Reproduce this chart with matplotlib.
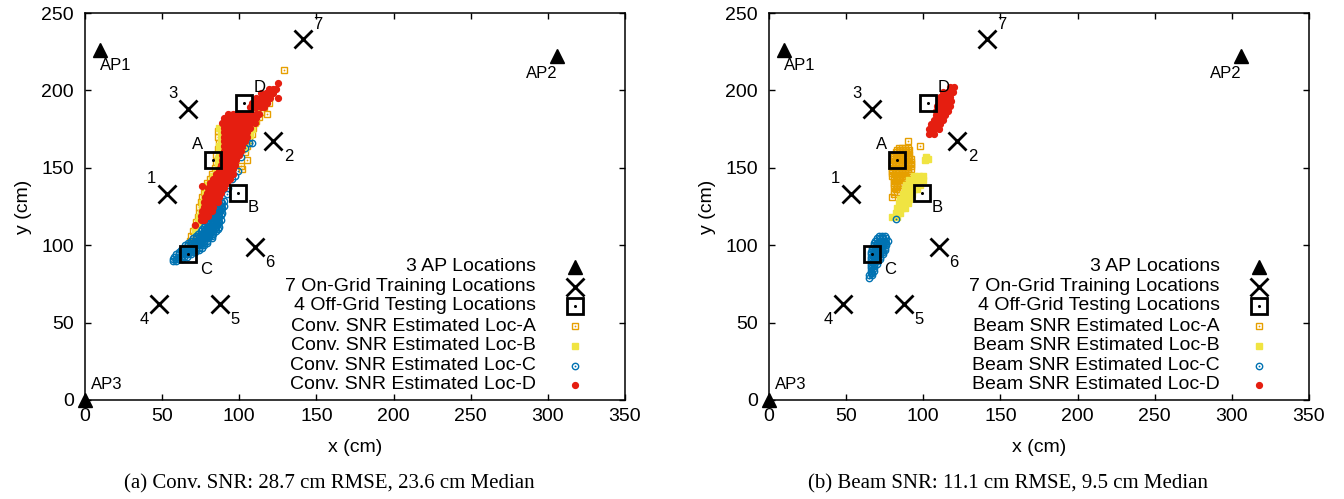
"""
Localización en interiores: estimaciones Conv. SNR vs Beam SNR.
Dos paneles con APs, puntos de entrenamiento, puntos de prueba y nubes de estimación.
"""

import matplotlib
matplotlib.use("Agg")
import matplotlib.pyplot as plt

plt.rcParams["font.family"] = ["Liberation Sans", "DejaVu Sans"]

# --- posiciones fijas (cm) ---
ap_x = [10, 306, 0]
ap_y = [226, 222, 0]
ap_labels = ["AP1", "AP2", "AP3"]

train_x = [53, 122, 67, 48, 87.5, 110, 141]
train_y = [133, 167, 188, 62, 62, 99, 233]
train_labels = ["1", "2", "3", "4", "5", "6", "7"]

test_x = [83, 99, 67, 103]
test_y = [155, 134, 94, 192]
test_labels = ["A", "B", "C", "D"]

# --- nubes de estimación, panel (a) Conv. SNR: filas (y, [x...]) + puntos sueltos ---
conv_a_pts = [
    (86, 174), (86, 170), (87, 166), (86, 162), (85, 158), (85, 154), (84, 150),
    (82, 146), (81, 143), (79, 140), (78, 137), (77, 134), (76, 131), (75, 128),
    (74, 125), (74, 121), (73, 118), (72, 115), (71, 112), (70, 109), (69, 106),
    (68, 103), (114, 186), (116, 189), (119, 192), (113, 183), (111, 180),
    (109, 176), (108, 172), (106, 168), (105, 164), (104, 160), (105, 155),
    (102, 149), (118, 185), (129, 213), (101, 151),
]
conv_b_pts = [
    (87, 176), (88, 172), (88, 168), (87, 164), (87, 160), (86, 156), (86, 152),
    (85, 148), (83, 145), (82, 142), (80, 139), (79, 136), (78, 133), (77, 130),
    (76, 127), (76, 124), (75, 121), (74, 118), (73, 115), (72, 112), (71, 109),
    (112, 187), (115, 190), (117, 193), (119, 196), (111, 183), (110, 179),
    (108, 175), (107, 171), (105, 167), (104, 163),
]
conv_c_rows = [
    (89.5, [57, 59]),
    (91, [57, 59, 61, 63]),
    (92.5, [58, 60, 62, 64, 66]),
    (94, [59, 61, 63, 65, 67, 69]),
    (95.5, [61, 63, 65, 67, 69, 71]),
    (97, [62, 64, 66, 68, 70, 72, 74]),
    (98.5, [64, 66, 68, 70, 72, 74, 76]),
    (100, [65, 67, 69, 71, 73, 75, 77]),
    (101.5, [67, 69, 71, 73, 75, 77, 79]),
    (103, [69, 71, 73, 75, 77, 79]),
    (104.5, [70, 72, 74, 76, 78, 80, 82]),
    (106, [72, 74, 76, 78, 80, 82]),
    (107.5, [73, 75, 77, 79, 81, 83]),
    (109, [75, 77, 79, 81, 83, 85]),
    (110.5, [76, 78, 80, 82, 84, 86]),
    (112, [77, 79, 81, 83, 85, 87]),
    (113.5, [78, 80, 82, 84, 86]),
    (115, [79, 81, 83, 85, 87]),
    (116.5, [80, 82, 84, 86, 88]),
    (118, [81, 83, 85, 87]),
    (119.5, [82, 84, 86, 88]),
    (121, [83, 85, 87, 89]),
    (122.5, [84, 86, 88]),
    (124, [85, 87, 89]),
    (125.5, [86, 88, 90]),
    (127, [87, 89]),
    (128.5, [88, 90]),
]
conv_c_pts = [
    (92, 133), (93, 137), (92, 141), (95, 143), (97, 145), (99, 148), (96, 152),
    (101, 157), (104, 163), (106, 166), (108, 166),
]
conv_d_rows = [
    (201, [119, 122, 124]),
    (198, [114, 117, 120, 122]),
    (195, [111, 114, 117, 120]),
    (192, [108, 110, 113, 116, 118]),
    (189, [107, 109, 111, 114, 116]),
    (185, [93, 96, 99, 102, 105, 108, 111, 113]),
    (182, [90, 93, 96, 99, 102, 105, 108, 111]),
    (179, [89, 92, 95, 98, 101, 104, 107, 110]),
    (176, [90, 93, 96, 99, 102, 105, 107]),
    (173, [90, 93, 96, 99, 102, 105]),
    (170, [90, 93, 96, 99, 102, 105]),
    (167, [90, 93, 96, 99, 102, 104]),
    (164, [90, 93, 96, 99, 102]),
    (161, [90, 93, 96, 99, 101]),
    (158, [89, 92, 95, 98, 100]),
    (155, [89, 92, 95, 98]),
    (152, [88, 91, 94, 97]),
    (149, [87, 90, 93, 96]),
    (146, [85, 88, 91, 94, 96]),
    (143, [83, 86, 89, 92, 94]),
    (140, [81, 84, 87, 90, 92]),
    (137, [80, 83, 86, 89, 90]),
    (134, [79, 82, 85, 88]),
    (131, [78, 81, 84, 87]),
    (128, [77, 80, 83, 86]),
    (125, [77, 80, 83]),
    (122, [76, 79, 82]),
    (119, [75, 78, 80]),
    (116, [75, 77]),
]
conv_d_pts = [(125, 205), (125, 195), (76, 138), (71, 113)]

# --- panel (b) Beam SNR ---
beam_a_rows = [
    (163, [84, 86, 88, 90]),
    (161.5, [83, 85, 87, 89, 91]),
    (160, [82, 84, 86, 88, 90]),
    (158.5, [81, 83, 85, 87, 89, 91]),
    (157, [81, 83, 85, 87, 89, 91]),
    (155.5, [80, 82, 84, 86, 88, 90, 92]),
    (154, [80, 82, 84, 86, 88, 90, 92]),
    (152.5, [80, 82, 84, 86, 88, 90, 92]),
    (151, [80, 82, 84, 86, 88, 90, 92]),
    (149.5, [80, 82, 84, 86, 88, 90, 92]),
    (148, [80, 82, 84, 86, 88, 90]),
    (146.5, [80, 82, 84, 86, 88, 90]),
    (145, [80, 82, 84, 86, 88]),
    (143.5, [81, 83, 85, 87, 89]),
    (142, [81, 83, 85, 87]),
    (140.5, [81, 83, 85]),
    (139, [81, 83, 85]),
    (137.5, [81, 83]),
    (136, [82, 84]),
    (134.5, [81, 83]),
    (133, [81]),
]
beam_a_pts = [(90, 167), (98, 164), (80, 131)]
beam_b_rows = [
    (145, [94, 97, 100]),
    (142, [91, 94, 97, 100]),
    (139, [89, 92, 95, 98]),
    (136, [88, 91, 94, 96]),
    (133, [87, 90, 93]),
    (130, [85, 88, 91]),
    (127, [84, 87, 90]),
    (124, [83, 86, 88]),
    (121, [82, 85]),
    (118, [80, 83]),
]
beam_b_pts = [(101, 155), (102, 157), (103, 156)]
beam_c_rows = [
    (106, [71, 73, 75]),
    (104.5, [70, 72, 74, 76]),
    (103, [69, 71, 73, 75, 77]),
    (101.5, [68, 70, 72, 74, 76]),
    (100, [68, 70, 72, 74, 76]),
    (98.5, [67, 69, 71, 73, 75]),
    (97, [67, 69, 71, 73, 75]),
    (95.5, [66, 68, 70, 72, 74]),
    (94, [66, 68, 70, 72, 74]),
    (92.5, [66, 68, 70, 72]),
    (91, [66, 68, 70, 72]),
    (89.5, [66, 68, 70]),
    (88, [66, 68, 70]),
    (86.5, [66, 68]),
    (85, [66, 68]),
    (83.5, [66, 68]),
    (82, [66, 67]),
    (80.5, [65, 67]),
    (79, [65]),
]
beam_c_pts = [(82, 117)]
beam_d_rows = [
    (202, [117, 120]),
    (199, [113, 116, 119]),
    (196, [111, 114, 117]),
    (193, [110, 113, 116, 118]),
    (190, [109, 112, 115, 117]),
    (187, [108, 111, 114, 116]),
    (184, [108, 111, 114]),
    (181, [107, 110, 113]),
    (178, [105, 108, 111]),
    (175, [104, 107, 110]),
    (172, [104, 107]),
]

legend_common = ["3 AP Locations", "7 On-Grid Training Locations",
                 "4 Off-Grid Testing Locations"]
captions = ["(a) Conv. SNR: 28.7 cm RMSE, 23.6 cm Median",
            "(b) Beam SNR: 11.1 cm RMSE, 9.5 cm Median"]
prefixes = ["Conv. SNR", "Beam SNR"]

# --- estilos ---
EST = {
    "A": dict(marker="s", color="#E69F00", filled=False, ms=4.6),
    "B": dict(marker="s", color="#F0E442", filled=True, ms=4.6),
    "C": dict(marker="o", color="#0072B2", filled=False, ms=4.6),
    "D": dict(marker="o", color="#E51E10", filled=True, ms=4.2),
}
AP_OFF = [(0, -11, "left"), (-11, -12, "center"), (4, 11, "left")]
TRAIN_OFF = [(-11, 11), (11, -11), (-11, 11), (-11, -11), (11, -11), (11, -11), (11, 11)]
TEST_OFF = [(-11, 11), (11, -11), (13, -11), (11, 11)]


def _flat(rows=(), pts=()):
    xs = [x for y, fila in rows for x in fila] + [p[0] for p in pts]
    ys = [y for y, fila in rows for _ in fila] + [p[1] for p in pts]
    return xs, ys


def _est(ax, xs, ys, key, **kw):
    st = EST[key]
    ax.plot(xs, ys, ls="none", marker=st["marker"], ms=st["ms"], mec=st["color"],
            mfc=st["color"] if st["filled"] else "none", mew=1.0, **kw)
    if not st["filled"]:
        ax.plot(xs, ys, ls="none", marker="o", ms=1.3, mec="none", mfc=st["color"], **kw)


def _ap(ax, xs, ys, **kw):
    ax.plot(xs, ys, ls="none", marker="^", ms=10.5, color="black", **kw)


def _train(ax, xs, ys, **kw):
    ax.plot(xs, ys, ls="none", marker="x", ms=12.5, mew=2.0, color="black", **kw)


def _test(ax, xs, ys, **kw):
    ax.plot(xs, ys, ls="none", marker="s", ms=11, mew=2.0, mec="black", mfc="none", **kw)
    ax.plot(xs, ys, ls="none", marker="o", ms=2.2, mec="none", mfc="black", **kw)


def dibujar_panel(ax, prefijo, nubes):
    fs = 14
    _ap(ax, ap_x, ap_y, clip_on=False, zorder=5)
    _train(ax, train_x, train_y, clip_on=False, zorder=5)
    for key in ["A", "B", "C", "D"]:
        xs, ys = nubes[key]
        _est(ax, xs, ys, key, zorder=3)
    _test(ax, test_x, test_y, zorder=4)

    for x, y, t, (dx, dy, ha) in zip(ap_x, ap_y, ap_labels, AP_OFF):
        ax.annotate(t, (x, y), xytext=(dx, dy), textcoords="offset points",
                    ha=ha, va="center", fontsize=12)
    for x, y, t, (dx, dy) in zip(train_x, train_y, train_labels, TRAIN_OFF):
        ax.annotate(t, (x, y), xytext=(dx, dy), textcoords="offset points",
                    ha="center", va="center", fontsize=12)
    for x, y, t, (dx, dy) in zip(test_x, test_y, test_labels, TEST_OFF):
        ax.annotate(t, (x, y), xytext=(dx, dy), textcoords="offset points",
                    ha="center", va="center", fontsize=12, zorder=6)

    # leyenda manual (estilo gnuplot: texto a la derecha, marcador después)
    etiquetas = legend_common + [f"{prefijo} Estimated Loc-{k}" for k in "ABCD"]
    filas_y = [0.344, 0.292, 0.243, 0.191, 0.140, 0.088, 0.039]
    tx, mx = 0.835, 0.907
    for lab, fy in zip(etiquetas, filas_y):
        ax.text(tx, fy, lab, transform=ax.transAxes, ha="right", va="center", fontsize=fs)
    kw = dict(transform=ax.transAxes, clip_on=False, zorder=6)
    _ap(ax, [mx], [filas_y[0]], **kw)
    _train(ax, [mx], [filas_y[1]], **kw)
    _test(ax, [mx], [filas_y[2]], **kw)
    for key, fy in zip("ABCD", filas_y[3:]):
        _est(ax, [mx], [fy], key, **kw)

    ax.set_xlim(0, 350)
    ax.set_ylim(0, 250)
    ax.set_xticks(range(0, 351, 50))
    ax.set_yticks(range(0, 251, 50))
    ax.tick_params(direction="in", top=True, right=True, length=4, width=1,
                   labelsize=fs)
    ax.tick_params(axis="x", pad=6)
    ax.tick_params(axis="y", pad=8)
    for s in ax.spines.values():
        s.set_linewidth(1.1)
    ax.set_xlabel("x (cm)", fontsize=fs, labelpad=10)
    ax.set_ylabel("y (cm)", fontsize=fs, labelpad=7)


nubes_conv = {
    "A": _flat(pts=conv_a_pts),
    "B": _flat(pts=conv_b_pts),
    "C": _flat(conv_c_rows, conv_c_pts),
    "D": _flat(conv_d_rows, conv_d_pts),
}
nubes_beam = {
    "A": _flat(beam_a_rows, beam_a_pts),
    "B": _flat(beam_b_rows, beam_b_pts),
    "C": _flat(beam_c_rows, beam_c_pts),
    "D": _flat(beam_d_rows),
}

W, H = 1344, 499
fig = plt.figure(figsize=(W / 100, H / 100), dpi=100)
ax1 = fig.add_axes([85 / W, 99 / H, 540 / W, 387 / H])
ax2 = fig.add_axes([769 / W, 99 / H, 540 / W, 387 / H])

for ax, pre, nubes in zip([ax1, ax2], prefixes, [nubes_conv, nubes_beam]):
    dibujar_panel(ax, pre, nubes)

for cx, cap in zip([0.245, 0.75], captions):
    fig.text(cx, 15 / H, cap, ha="center", va="center", fontsize=15,
             family=["Liberation Serif", "DejaVu Serif"])

fig.savefig("out.png", dpi=100)
